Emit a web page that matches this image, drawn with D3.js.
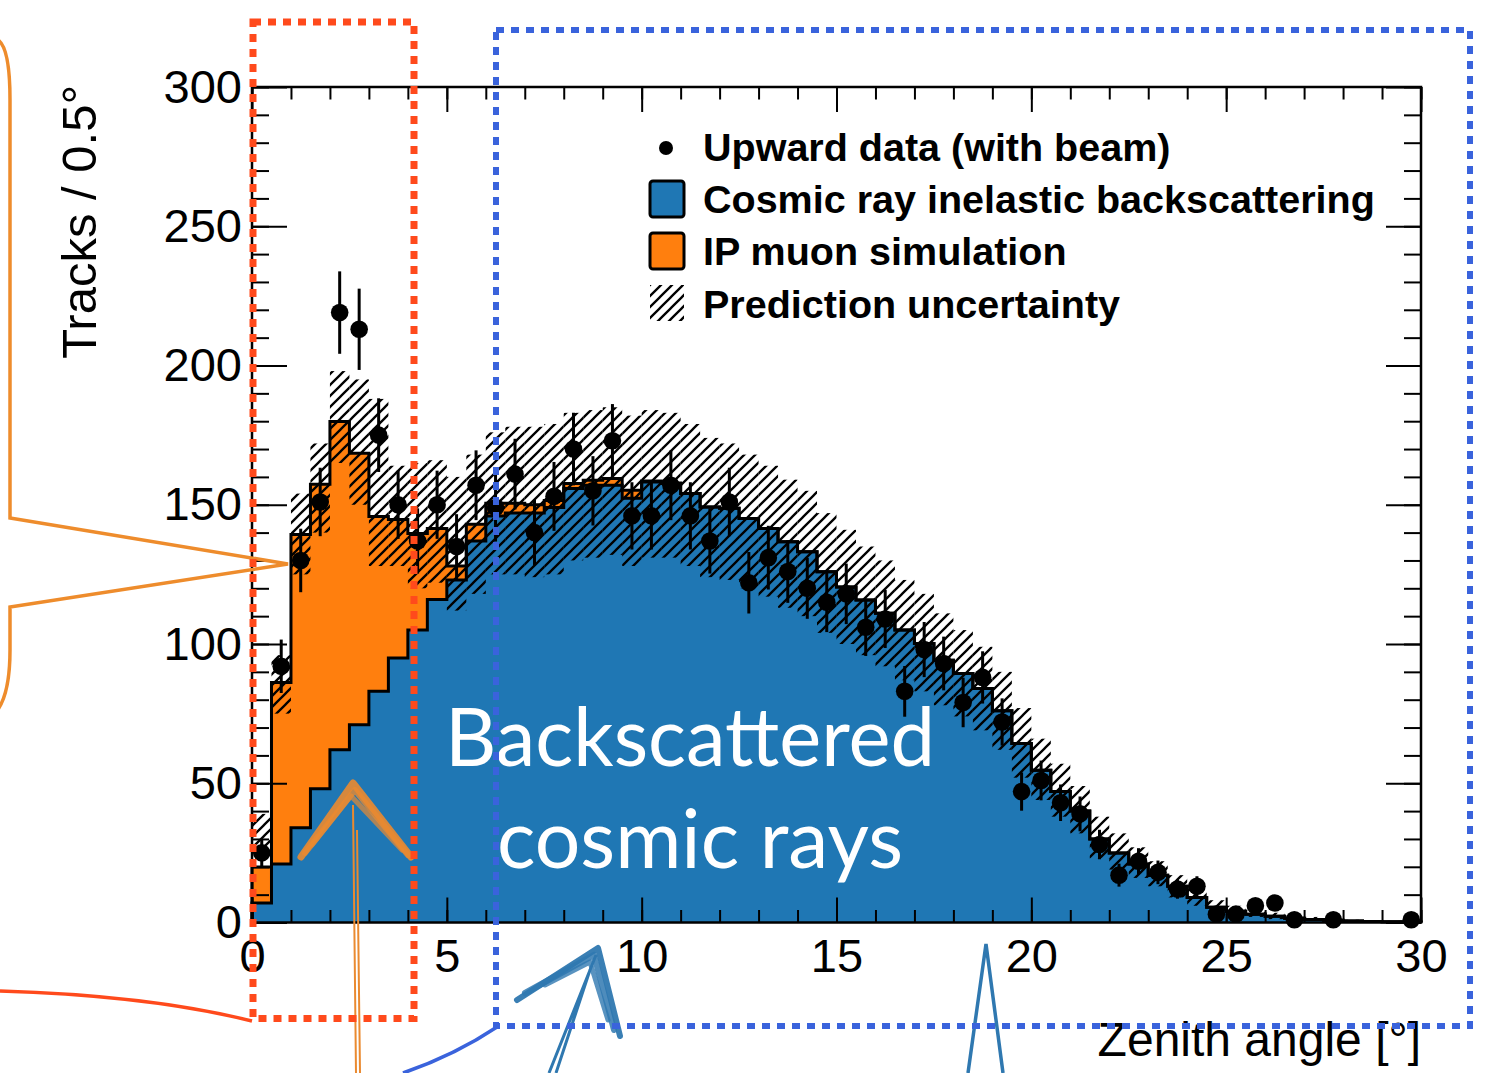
<!DOCTYPE html>
<html>
<head>
<meta charset="utf-8">
<script src="https://cdn.jsdelivr.net/npm/d3@7"></script>
<style>
  html, body { margin: 0; padding: 0; background: #ffffff; }
  svg { display: block; }
</style>
</head>
<body>
<svg id="chart" width="1497" height="1073"></svg>
<script>
// ---- Histogram definition: 0.5 degree bins from 0 to 30 degrees ----
const binWidth = 0.5;
const binStarts = d3.range(0, 30, binWidth);

// Cosmic ray inelastic backscattering (blue, bottom of stack), tracks per bin
const cosmicBackscatter = [
  7, 21, 34, 48, 62, 71, 83, 95, 105, 116,
  123, 137, 146, 147, 147, 149, 155.8, 157, 157, 152.3,
  158.2, 157.6, 154, 149.2, 148.7, 145.1, 141.5, 136.7, 133.1, 125.9,
  120.5, 115.8, 111, 105, 100.2, 94.2, 89.4, 84, 76, 64.3,
  54.7, 47, 40, 30, 25, 21, 17, 13, 9, 5.5,
  4, 3, 2.2, 1.5, 1.1, 0.8, 0.5, 0.4, 0.3, 0.2
];

// IP muon simulation (orange, stacked on top), tracks per bin
const ipMuon = [
  12.9, 65.2, 105.3, 109.4, 117.9, 97.5, 62.8, 49.7, 34.7, 25.5,
  5, 6, 4.5, 3.5, 3, 2.5, 1.8, 1.8, 2.4, 2.9,
  0.3, 0.2, 0, 0, 0, 0, 0, 0, 0, 0,
  0, 0, 0, 0, 0, 0, 0, 0, 0, 0,
  0, 0, 0, 0, 0, 0, 0, 0, 0, 0,
  0, 0, 0, 0, 0, 0, 0, 0, 0, 0
];

// Prediction uncertainty band (lower / upper edge), tracks per bin
const bandLow = [
  27, 75, 125, 140, 165, 150, 128, 128, 120, 122,
  112, 118, 125, 125, 124, 125, 130, 131, 132, 128,
  131, 131, 128, 124, 123, 120, 117, 113, 110, 104,
  100, 96, 92, 87, 83, 78, 74, 69, 62, 52,
  44, 38, 32, 23, 19, 16, 13, 9, 6, 3.5,
  2.5, 2, 1.2, 0.8, 0.6, 0.4, 0.2, 0.2, 0.1, 0.1
];
const bandHigh = [
  39, 96, 154, 172, 198, 195, 188, 164, 165, 166,
  160, 168, 176, 178, 178, 179, 183, 184, 185, 182,
  184, 183, 179, 174, 172, 168, 164, 159, 155, 147,
  141, 135, 130, 123, 118, 111, 105, 99, 90, 77,
  66, 57, 49, 38, 32, 27, 22, 17, 12, 8,
  6, 4.5, 3.5, 2.5, 2, 1.5, 1, 0.8, 0.6, 0.4
];

// Upward data (with beam), observed tracks per bin
const upwardData = [
  25, 92, 130, 151, 219, 213, 175, 150, 137, 150,
  135, 157, 149, 161, 140, 153, 170, 155, 173, 146,
  146, 157, 146, 137, 151, 122, 131, 126, 120, 115,
  118, 106, 109, 83, 98, 93, 79, 88, 72, 47,
  51, 43, 39, 28, 17, 22, 18, 12, 13, 3,
  3, 6, 7, 1, 0, 1, 0, 0, 0, 1
];

// Axis ticks and titles
const xMajorTicks = [0, 5, 10, 15, 20, 25, 30];
const xMinorTicks = d3.range(0, 31, 1);
const yMajorTicks = [0, 50, 100, 150, 200, 250, 300];
const yMinorTicks = d3.range(0, 301, 10);
const xTitle = "Zenith angle [°]";
const yTitle = "Tracks / 0.5°";
const legendLabels = [
  "Upward data (with beam)",
  "Cosmic ray inelastic backscattering",
  "IP muon simulation",
  "Prediction uncertainty"
];
const overlayLines = ["Backscattered", "cosmic rays"];

// ---- Styling ----
const BLUE = "#1f77b4";
const ORANGE = "#ff7f0e";
const FONT = "'Liberation Sans', Arial, Helvetica, sans-serif";

const svg = d3.select("#chart");
const frame = { left: 252, right: 1421, top: 87, bottom: 922.5 };

const x = d3.scaleLinear().domain([0, 30]).range([frame.left, frame.right]);
const y = d3.scaleLinear().domain([0, 300]).range([frame.bottom, frame.top]);

// Hatch pattern for the uncertainty band ("/" lines)
const defs = svg.append("defs");
const hatch = defs.append("pattern")
  .attr("id", "hatch")
  .attr("patternUnits", "userSpaceOnUse")
  .attr("width", 11).attr("height", 11);
hatch.append("path")
  .attr("d", "M-1,1 l2,-2 M0,11 l11,-11 M10,12 l2,-2")
  .attr("stroke", "#000").attr("stroke-width", 2.3).attr("fill", "none");

// Build rows for the stack
const rows = binStarts.map((lo, i) => ({
  lo, hi: lo + binWidth,
  cosmic: cosmicBackscatter[i],
  total: cosmicBackscatter[i] + ipMuon[i],
  bLo: bandLow[i], bHi: bandHigh[i],
  data: upwardData[i]
}));

// Step outline points for a value accessor
function stepPoints(acc) {
  const pts = [[0, 0]];
  rows.forEach(r => { pts.push([r.lo, acc(r)]); pts.push([r.hi, acc(r)]); });
  pts.push([30, 0]);
  return pts;
}

const plot = svg.append("g");

// Blue fill
const blueArea = d3.area()
  .x(d => x(d.x)).y0(y(0)).y1(d => y(d.v));
const bluePts = [];
rows.forEach(r => { bluePts.push({ x: r.lo, v: r.cosmic }); bluePts.push({ x: r.hi, v: r.cosmic }); });
plot.append("path").attr("d", blueArea(bluePts)).attr("fill", BLUE);

// Orange fill (between cosmic and total)
const orangeArea = d3.area()
  .x(d => x(d.x)).y0(d => y(d.b)).y1(d => y(d.t));
const orangePts = [];
rows.forEach(r => {
  orangePts.push({ x: r.lo, b: r.cosmic, t: r.total });
  orangePts.push({ x: r.hi, b: r.cosmic, t: r.total });
});
plot.append("path").attr("d", orangeArea(orangePts)).attr("fill", ORANGE);

// Black step outlines of both stacked histograms
const line = d3.line().x(d => x(d[0])).y(d => y(d[1]));
plot.append("path").attr("d", line(stepPoints(r => r.cosmic)))
  .attr("fill", "none").attr("stroke", "#000").attr("stroke-width", 3)
  .attr("stroke-linejoin", "miter");
plot.append("path").attr("d", line(stepPoints(r => r.total)))
  .attr("fill", "none").attr("stroke", "#000").attr("stroke-width", 3)
  .attr("stroke-linejoin", "miter");

// Uncertainty band (hatched)
plot.append("g").selectAll("rect").data(rows).join("rect")
  .attr("x", d => x(d.lo))
  .attr("width", d => x(d.hi) - x(d.lo))
  .attr("y", d => y(d.bHi))
  .attr("height", d => y(d.bLo) - y(d.bHi))
  .attr("fill", "url(#hatch)");

// Data points with Poisson error bars
const pts = rows.filter(r => r.data > 0);
const dataG = plot.append("g");
dataG.selectAll("line").data(pts).join("line")
  .attr("x1", d => x((d.lo + d.hi) / 2)).attr("x2", d => x((d.lo + d.hi) / 2))
  .attr("y1", d => y(d.data + Math.sqrt(d.data)))
  .attr("y2", d => y(Math.max(0, d.data - Math.sqrt(d.data))))
  .attr("stroke", "#000").attr("stroke-width", 3);
dataG.selectAll("circle").data(pts).join("circle")
  .attr("cx", d => x((d.lo + d.hi) / 2)).attr("cy", d => y(d.data))
  .attr("r", 8.8).attr("fill", "#000");

// ---- Axes (ticks inside the frame on all four sides) ----
const axes = svg.append("g").attr("font-family", FONT);

function styleAxis(g) {
  g.select(".domain").remove();
  g.selectAll(".tick line").attr("stroke", "#000").attr("stroke-width", 2);
  g.selectAll(".tick text").attr("fill", "#000").attr("font-size", 47).attr("font-family", FONT);
}

axes.append("g").attr("transform", `translate(0,${frame.bottom})`)
  .call(d3.axisBottom(x).tickValues(xMinorTicks).tickSize(-12.5).tickFormat(""))
  .call(styleAxis);
axes.append("g").attr("transform", `translate(0,${frame.bottom})`)
  .call(d3.axisBottom(x).tickValues(xMajorTicks).tickSize(-25).tickPadding(16).tickFormat(d3.format("d")))
  .call(styleAxis);
axes.append("g").attr("transform", `translate(0,${frame.top})`)
  .call(d3.axisTop(x).tickValues(xMinorTicks).tickSize(-12.5).tickFormat(""))
  .call(styleAxis);
axes.append("g").attr("transform", `translate(0,${frame.top})`)
  .call(d3.axisTop(x).tickValues(xMajorTicks).tickSize(-25).tickFormat(""))
  .call(styleAxis);

axes.append("g").attr("transform", `translate(${frame.left},0)`)
  .call(d3.axisLeft(y).tickValues(yMinorTicks).tickSize(-17).tickFormat(""))
  .call(styleAxis);
axes.append("g").attr("transform", `translate(${frame.left},0)`)
  .call(d3.axisLeft(y).tickValues(yMajorTicks).tickSize(-35).tickPadding(10).tickFormat(d3.format("d")))
  .call(styleAxis);
axes.append("g").attr("transform", `translate(${frame.right},0)`)
  .call(d3.axisRight(y).tickValues(yMinorTicks).tickSize(-17).tickFormat(""))
  .call(styleAxis);
axes.append("g").attr("transform", `translate(${frame.right},0)`)
  .call(d3.axisRight(y).tickValues(yMajorTicks).tickSize(-35).tickFormat(""))
  .call(styleAxis);

// Frame
axes.append("rect")
  .attr("x", frame.left).attr("y", frame.top)
  .attr("width", frame.right - frame.left).attr("height", frame.bottom - frame.top)
  .attr("fill", "none").attr("stroke", "#000").attr("stroke-width", 2.5);

// Axis titles
axes.append("text")
  .attr("x", frame.right).attr("y", 1056)
  .attr("text-anchor", "end").attr("font-size", 48).attr("fill", "#000")
  .text(xTitle);
axes.append("text")
  .attr("transform", `translate(96,${frame.top - 2}) rotate(-90)`)
  .attr("text-anchor", "end").attr("font-size", 49).attr("fill", "#000")
  .text(yTitle);

// ---- Legend ----
const legend = svg.append("g").attr("font-family", FONT).attr("font-weight", "bold").attr("font-size", 39.5);
const legY = [161, 213, 265, 318];
legend.append("circle").attr("cx", 666).attr("cy", legY[0] - 13).attr("r", 7).attr("fill", "#000");
legend.append("rect").attr("x", 650).attr("y", legY[1] - 32).attr("width", 34).attr("height", 36)
  .attr("rx", 3).attr("fill", BLUE).attr("stroke", "#000").attr("stroke-width", 3);
legend.append("rect").attr("x", 650).attr("y", legY[2] - 32).attr("width", 34).attr("height", 36)
  .attr("rx", 3).attr("fill", ORANGE).attr("stroke", "#000").attr("stroke-width", 3);
legend.append("rect").attr("x", 650).attr("y", legY[3] - 33).attr("width", 34).attr("height", 36)
  .attr("fill", "url(#hatch)");
legend.selectAll("text").data(legendLabels).join("text")
  .attr("x", 703).attr("y", (d, i) => legY[i]).attr("fill", "#000").text(d => d);

// ---- Annotation layer ----
const notes = svg.append("g");

// White caption on the cosmic-ray region
notes.append("text").attr("x", 445).attr("y", 766)
  .attr("font-family", "Lato, 'Open Sans', sans-serif").attr("font-size", 82).attr("fill", "#fff")
  .attr("textLength", 490).attr("lengthAdjust", "spacingAndGlyphs")
  .text(overlayLines[0]);
notes.append("text").attr("x", 497).attr("y", 868)
  .attr("font-family", "Lato, 'Open Sans', sans-serif").attr("font-size", 82).attr("fill", "#fff")
  .attr("textLength", 406).attr("lengthAdjust", "spacingAndGlyphs")
  .text(overlayLines[1]);

// Hand-drawn arrows (several loose strokes for a sketched look)
const orangeInk = "#ea8a30", blueInk = "#2f78b0";
[["M301,857 L353,783 L411,857", 7, 0.9],
 ["M305,853 L355,790 L408,855", 6, 0.8],
 ["M312,845 L351,796 L402,850", 5, 0.7]].forEach(([d, w, o]) => {
  notes.append("path").attr("d", d)
    .attr("fill", "none").attr("stroke", orangeInk).attr("stroke-width", w).attr("opacity", o)
    .attr("stroke-linecap", "round").attr("stroke-linejoin", "round");
});
notes.append("path").attr("d", "M353,805 L356,1073 M357,830 L360,1073")
  .attr("fill", "none").attr("stroke", orangeInk).attr("stroke-width", 2);

[["M517,1000 L598,948 L620,1036", 6, 0.95],
 ["M525,993 L594,955 L614,1030", 6, 0.85],
 ["M545,985 L590,962 L608,1020", 5, 0.8]].forEach(([d, w, o]) => {
  notes.append("path").attr("d", d)
    .attr("fill", "none").attr("stroke", blueInk).attr("stroke-width", w).attr("opacity", o)
    .attr("stroke-linecap", "round").attr("stroke-linejoin", "round");
});
notes.append("path").attr("d", "M596,955 L549,1073 M590,970 L556,1073")
  .attr("fill", "none").attr("stroke", blueInk).attr("stroke-width", 3);

notes.append("path").attr("d", "M968,1073 L986,944 L1003,1073")
  .attr("fill", "none").attr("stroke", blueInk).attr("stroke-width", 3.5)
  .attr("stroke-linejoin", "miter");

// Callout outline on the left
notes.append("path")
  .attr("d", "M-2,40 Q10,48 10,100 L10,518 L288,564 L10,607 L10,650 Q10,695 -4,712")
  .attr("fill", "none").attr("stroke", "#ee8c2c").attr("stroke-width", 3.5)
  .attr("stroke-linejoin", "miter");

// Connector lines
notes.append("path").attr("d", "M0,991 C100,994 180,1003 252,1021")
  .attr("fill", "none").attr("stroke", "#ff4a1c").attr("stroke-width", 3.5);
notes.append("path").attr("d", "M497,1027 Q455,1055 403,1073")
  .attr("fill", "none").attr("stroke", "#3a63dc").attr("stroke-width", 3.5);

// Dotted region boxes
notes.append("rect").attr("x", 253).attr("y", 22).attr("width", 161).attr("height", 996.5)
  .attr("fill", "none").attr("stroke", "#ff4a1c").attr("stroke-width", 7)
  .attr("stroke-dasharray", "8 7");
notes.append("rect").attr("x", 496).attr("y", 30).attr("width", 974).attr("height", 996)
  .attr("fill", "none").attr("stroke", "#3a63dc").attr("stroke-width", 6)
  .attr("stroke-dasharray", "8 7");
</script>
</body>
</html>
